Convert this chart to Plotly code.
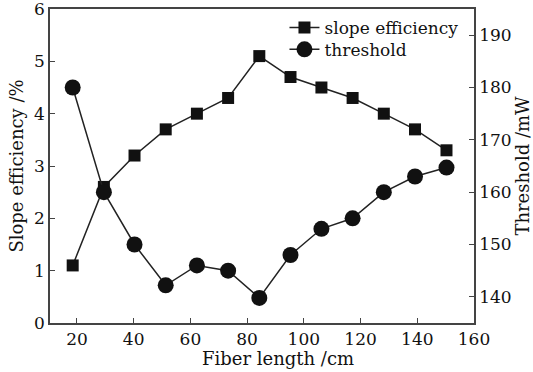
import plotly.graph_objects as go

fiber_length = [18.5, 29.5, 40.3, 51.3, 62.3, 73.3, 84.3, 95.3, 106.2, 117.2, 128.2, 139.2, 150.3]
slope_eff = [1.1, 2.6, 3.2, 3.7, 4.0, 4.3, 5.1, 4.7, 4.5, 4.3, 4.0, 3.7, 3.3]
threshold = [180.0, 160.0, 150.0, 142.2, 146.0, 145.0, 139.8, 148.0, 153.0, 155.0, 160.0, 163.0, 164.7]

FONT = "DejaVu Serif"
AX = "#444444"
MK = "#111111"

fig = go.Figure()
fig.add_trace(go.Scatter(
    x=fiber_length, y=slope_eff, name="slope efficiency", mode="lines+markers",
    line=dict(color="#222222", width=1.5),
    marker=dict(symbol="square", size=12, color=MK),
    legend="legend",
))
fig.add_trace(go.Scatter(
    x=fiber_length, y=threshold, name="threshold", mode="lines+markers", yaxis="y2",
    line=dict(color="#222222", width=1.5),
    marker=dict(symbol="circle", size=16, color=MK),
    legend="legend2",
))

leg_common = dict(xanchor="left", yanchor="middle", bgcolor="rgba(0,0,0,0)",
                  font=dict(family=FONT, size=17), itemwidth=30, tracegroupgap=0,
                  borderwidth=0)

fig.update_layout(
    width=533, height=372,
    margin=dict(l=50, r=59, t=9, b=49),
    paper_bgcolor="white", plot_bgcolor="white",
    font=dict(family=FONT, size=17, color="#111111"),
    showlegend=True,
    legend=dict(x=0.553, y=0.94, **leg_common),
    legend2=dict(x=0.553, y=0.87, **leg_common),
    xaxis=dict(range=[10.5, 160], tickvals=[20, 40, 60, 80, 100, 120, 140, 160],
               ticks="inside", ticklen=5, tickcolor=AX, showgrid=False, zeroline=False,
               showline=True, linecolor=AX, linewidth=1.5, mirror=True, automargin=False,
               ticklabeloverflow="allow"),
    yaxis=dict(range=[0, 6], tickvals=[0, 1, 2, 3, 4, 5, 6],
               ticks="inside", ticklen=5, tickcolor=AX, showgrid=False, zeroline=False,
               showline=True, linecolor=AX, linewidth=1.5, automargin=False,
               ticklabeloverflow="allow",
               title=dict(text="Slope efficiency /%", standoff=6, font=dict(size=18))),
    yaxis2=dict(range=[135, 195], tickvals=[140, 150, 160, 170, 180, 190],
                overlaying="y", side="right", automargin=False,
                ticklabeloverflow="allow",
                ticks="inside", ticklen=5, tickcolor=AX, showgrid=False, zeroline=False,
                showline=True, linecolor=AX, linewidth=1.5,
                title=dict(text="Threshold /mW", standoff=6, font=dict(size=18))),
    annotations=[dict(text="Fiber length /cm", xref="paper", yref="paper",
                      x=0.538, y=0, yshift=-35, xanchor="center", yanchor="middle",
                      showarrow=False, font=dict(family=FONT, size=18, color="#111111"))],
)

fig.write_html("out.html")
